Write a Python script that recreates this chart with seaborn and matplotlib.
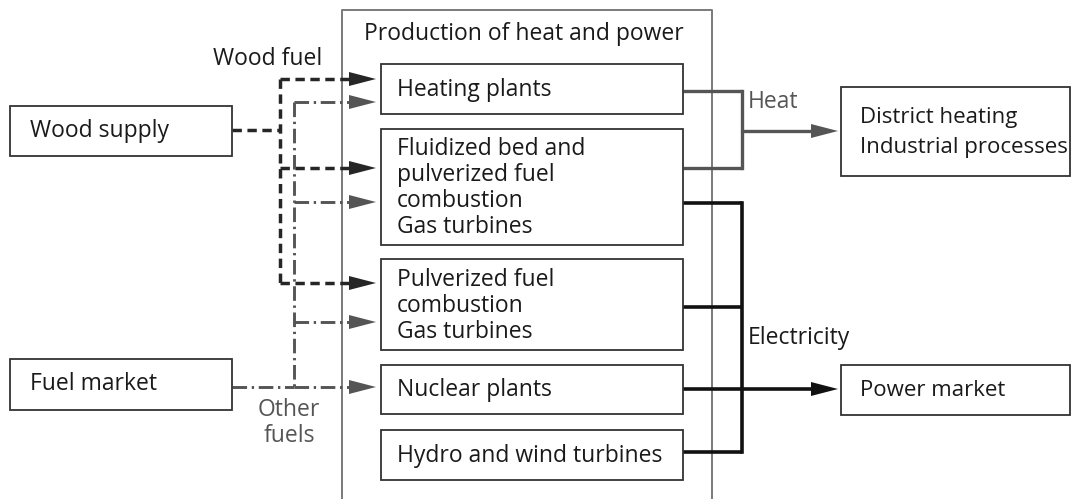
import matplotlib
matplotlib.use("Agg")
import matplotlib.pyplot as plt
import seaborn as sns
from matplotlib.patches import Rectangle

sns.set_theme(style="white")
plt.rcParams['font.family'] = ['Open Sans', 'DejaVu Sans']

# Boxes: label lines, tops and bottoms in pixel space
plant_labels = [
    ["Heating plants"],
    ["Fluidized bed and", "pulverized fuel", "combustion", "Gas turbines"],
    ["Pulverized fuel", "combustion", "Gas turbines"],
    ["Nuclear plants"],
    ["Hydro and wind turbines"],
]
plant_tops = [64, 129, 259, 365, 430]
plant_bottoms = [114, 245, 350, 414, 480]

source_labels = ["Wood supply", "Fuel market"]
source_tops = [106, 359]
source_bottoms = [156, 410]

sink_labels = [["District heating", "Industrial processes"], ["Power market"]]
sink_tops = [87, 365]
sink_bottoms = [176, 415]

# Flows: y of the arrows into / out of each plant box
wood_arrow_y = [79, 168, 283]
other_arrow_y = [102, 202, 322, 387]
heat_out_y = [91, 168]
elec_out_y = [203, 307, 389, 452]

DARK = "#262626"
GRAY = "#555555"
INK = "#1a1a1a"

fig = plt.figure(figsize=(10.77, 4.99), dpi=100)
ax = fig.add_axes([0, 0, 1, 1])
ax.set_xlim(0, 1077)
ax.set_ylim(499, 0)
ax.axis("off")

FS = 16.5


def box(x0, y0, x1, y1, color="#333333", lw=1.3):
    ax.add_patch(Rectangle((x0, y0), x1 - x0, y1 - y0, facecolor="white",
                           edgecolor=color, linewidth=lw, zorder=3))


def text_block(x, yc, lines, lh=26, color=INK, fs=FS):
    n = len(lines)
    for i, s in enumerate(lines):
        y = yc + (i - (n - 1) / 2) * lh
        ax.text(x, y, s, fontsize=fs, color=color, va="center", ha="left", zorder=4)


def head(xtip, y, color, length=27, half=7):
    ax.fill([xtip, xtip - length, xtip - length], [y, y - half, y + half],
            color=color, lw=0, zorder=5)


# outer production frame (open at the bottom)
ax.plot([342, 342, 712, 712], [505, 10, 10, 505], color="#7a7a7a", lw=1.4, zorder=1)
ax.text(524, 34, "Production of heat and power", fontsize=FS, color=INK,
        ha="center", va="center")

# plant boxes
for lab, t, b in zip(plant_labels, plant_tops, plant_bottoms):
    box(381, t, 683, b)
    text_block(397, (t + b) / 2 + 1, lab)

# sources
for lab, t, b in zip(source_labels, source_tops, source_bottoms):
    box(10, t, 232, b)
    text_block(30, (t + b) / 2, [lab])

# sinks
for lab, t, b in zip(sink_labels, sink_tops, sink_bottoms):
    box(841, t, 1070, b)
    text_block(860, (t + b) / 2 + 1, lab, lh=31, fs=16)

# wood fuel (dashed, dark)
wood_ls = (0, (2.7, 1.6))
wlw = 2.5
ax.plot([232, 280], [130, 130], color=DARK, lw=wlw, ls=wood_ls, zorder=2)
ax.plot([280, 280], [wood_arrow_y[0], wood_arrow_y[-1]], color=DARK, lw=wlw, ls=wood_ls, zorder=2)
for y in wood_arrow_y:
    ax.plot([280, 350], [y, y], color=DARK, lw=wlw, ls=wood_ls, zorder=2)
    head(376, y, DARK)
ax.text(268, 59, "Wood fuel", fontsize=FS, color=INK, ha="center", va="center")

# other fuels (dash-dot, gray)
oth_ls = (0, (5, 1.6, 0.8, 1.6))
olw = 2.1
ax.plot([232, 294], [387, 387], color=GRAY, lw=olw, ls=oth_ls, zorder=2)
ax.plot([294, 294], [other_arrow_y[0], other_arrow_y[-1]], color=GRAY, lw=olw, ls=oth_ls, zorder=2)
for y in other_arrow_y:
    ax.plot([294, 350], [y, y], color=GRAY, lw=olw, ls=oth_ls, zorder=2)
    head(376, y, GRAY)
ax.text(289, 410, "Other", fontsize=FS, color=GRAY, ha="center", va="center")
ax.text(289, 436, "fuels", fontsize=FS, color=GRAY, ha="center", va="center")

# heat (solid gray)
for y in heat_out_y:
    ax.plot([683, 742], [y, y], color=GRAY, lw=2.4, zorder=2, solid_capstyle="butt")
ax.plot([742, 742], [heat_out_y[0], heat_out_y[-1]], color=GRAY, lw=2.4, zorder=2,
        solid_capstyle="projecting")
ax.plot([742, 815], [131, 131], color=GRAY, lw=2.4, zorder=2)
head(838, 131, GRAY)
ax.text(748, 102, "Heat", fontsize=FS, color=GRAY, ha="left", va="center")

# electricity (solid dark)
for y in elec_out_y:
    ax.plot([683, 742], [y, y], color="#111111", lw=2.6, zorder=2, solid_capstyle="butt")
ax.plot([742, 742], [elec_out_y[0], elec_out_y[-1]], color="#111111", lw=2.6, zorder=2,
        solid_capstyle="projecting")
ax.plot([742, 815], [389, 389], color="#111111", lw=2.6, zorder=2)
head(838, 389, "#111111")
ax.text(748, 338, "Electricity", fontsize=FS, color=INK, ha="left", va="center")

fig.savefig("out.png", dpi=100, facecolor="white")
